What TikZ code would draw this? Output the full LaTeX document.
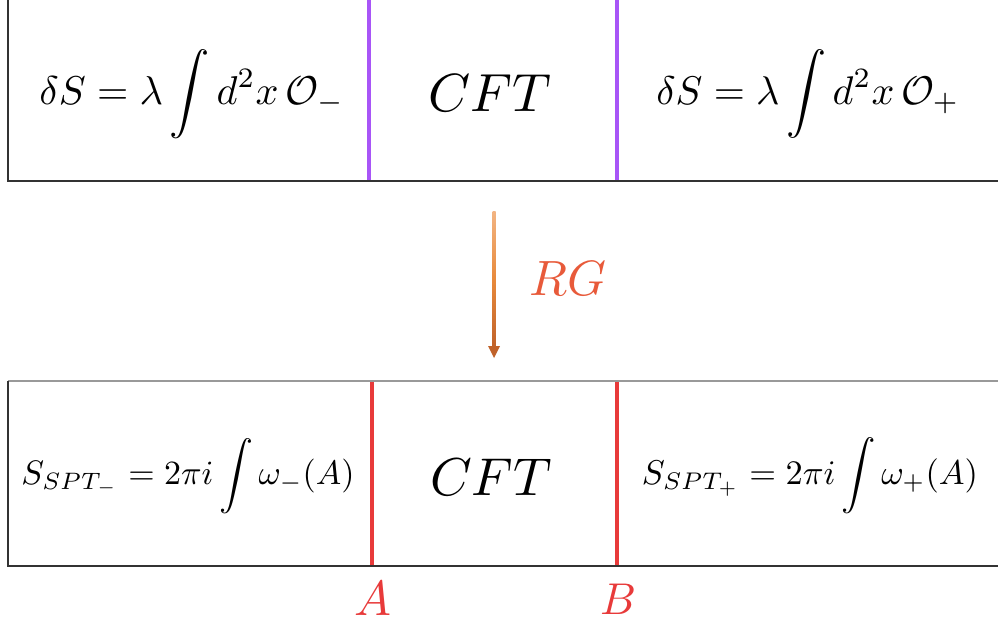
\documentclass[tikz,border=0pt]{standalone}
\usepackage{amsmath,graphicx}
\definecolor{boxline}{HTML}{333333}
\definecolor{wallpurple}{HTML}{A855F7}
\definecolor{wallred}{HTML}{E83A3A}
\definecolor{rgtext}{HTML}{E85A3A}
\definecolor{arrtop}{HTML}{F2B482}
\definecolor{arrmid}{HTML}{E88A3C}
\definecolor{arrbot}{HTML}{C0622A}
\begin{document}
\begin{tikzpicture}[x=1pt,y=-1pt,
  boxedge/.style={draw=boxline,line width=1.4pt},
  wallp/.style={draw=wallpurple,line width=3.6pt},
  wallr/.style={draw=wallred,line width=3.6pt},
  eq/.style={inner sep=0pt,anchor=center},
  lbl/.style={inner sep=0pt,text=wallred}]
\useasboundingbox (0,0) rectangle (998,623);
\fill[white] (0,0) rectangle (998,623);
% top box
\coordinate (t1) at (8,0);
\coordinate (t2) at (8,181);
\coordinate (t3) at (998,181);
\draw[boxedge] (t1) -- (t2) -- (t3);
\coordinate (pa1) at (369,0); \coordinate (pa2) at (369,180.3);
\coordinate (pb1) at (617,0); \coordinate (pb2) at (617,180.3);
\draw[wallp] (pa1) -- (pa2);
\draw[wallp] (pb1) -- (pb2);
\node[eq] (tl) at (192,94) {\resizebox{305pt}{!}{$\delta S=\lambda\displaystyle\int d^2x\,\mathcal{O}_-$}};
\node[eq] (tc) at (490,93) {\resizebox{123pt}{!}{$CFT$}};
\node[eq] (tr) at (808,94) {\resizebox{303pt}{!}{$\delta S=\lambda\displaystyle\int d^2x\,\mathcal{O}_+$}};
% arrow
\coordinate (a1) at (494,211);
\coordinate (a2) at (494,346);
\coordinate (a3) at (494,358);
\shade[top color=arrtop,bottom color=arrbot,middle color=arrmid] (492.5,211) rectangle (495.5,347);
\fill[arrbot] (488,346) -- (500,346) -- (a3) -- cycle;
\node[inner sep=0pt,text=rgtext] (rg) at (568,279) {\resizebox{77pt}{!}{$RG$}};
% bottom box
\coordinate (b1) at (998,381);
\coordinate (b2) at (8,381);
\coordinate (b3) at (8,566);
\coordinate (b4) at (998,566);
\draw[draw=gray!80,line width=1.4pt] (b1) -- (b2);
\draw[boxedge] (b2) -- (b3) -- (b4);
\coordinate (ra1) at (372,382); \coordinate (ra2) at (372,565.3);
\coordinate (rb1) at (617,382); \coordinate (rb2) at (617,565.3);
\draw[wallr] (ra1) -- (ra2);
\draw[wallr] (rb1) -- (rb2);
\node[eq] (bl) at (188,476) {\resizebox{333pt}{!}{$S_{SPT_-}=2\pi i\displaystyle\int\omega_-(A)$}};
\node[eq] (bc) at (491,477) {\resizebox{122pt}{!}{$CFT$}};
\node[eq] (br) at (810,476) {\resizebox{336pt}{!}{$S_{SPT_+}=2\pi i\displaystyle\int\omega_+(A)$}};
\node[lbl] (la) at (373,599) {\resizebox{37pt}{!}{$A$}};
\node[lbl] (lb) at (618,599) {\resizebox{36pt}{!}{$B$}};
\end{tikzpicture}
\end{document}
